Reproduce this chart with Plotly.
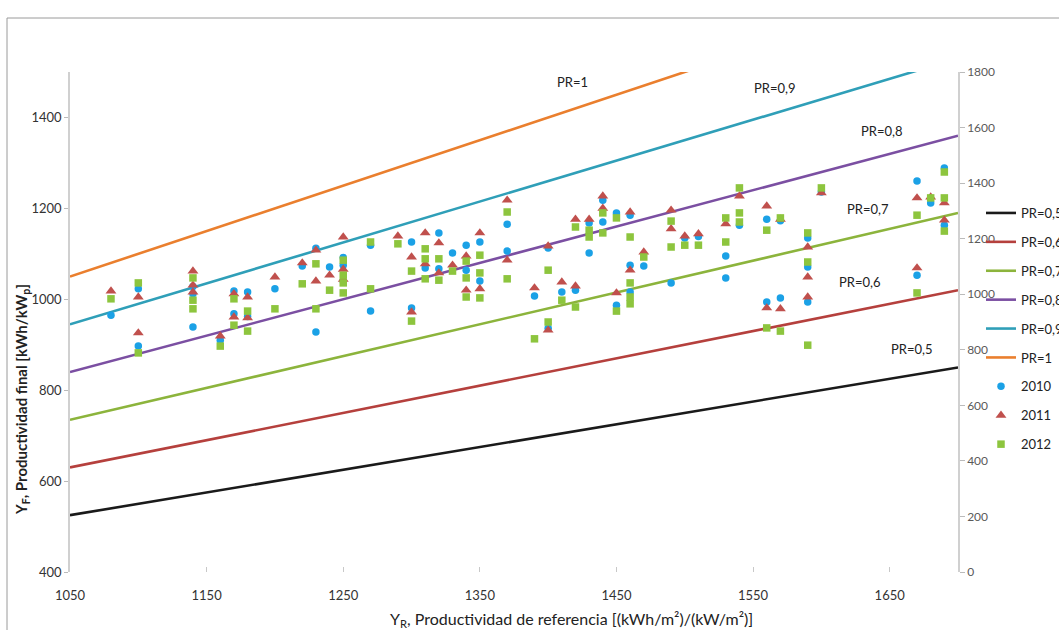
import plotly.graph_objects as go

# ---------------- data ----------------
pr_values = [0.5, 0.6, 0.7, 0.8, 0.9, 1.0]
pr_labels = ["PR=0,5", "PR=0,6", "PR=0,7", "PR=0,8", "PR=0,9", "PR=1"]
pr_colors = ["#1a1a1a", "#b5403d", "#8cb43c", "#7b4fa2", "#2f9fb8", "#ea7f2e"]
x_line = [1050, 1700]

x2010 = [1080, 1100, 1100, 1140, 1140, 1140, 1160, 1170, 1170, 1180, 1180, 1200, 1220,
         1230, 1230, 1240, 1250, 1250, 1250, 1270, 1270, 1300, 1300, 1310, 1320, 1320,
         1330, 1340, 1340, 1350, 1350, 1370, 1370, 1390, 1400, 1400, 1410, 1420, 1430,
         1430, 1440, 1440, 1450, 1450, 1460, 1460, 1460, 1470, 1490, 1500, 1510, 1530,
         1530, 1540, 1560, 1560, 1570, 1570, 1590, 1590, 1590, 1600, 1670, 1670, 1680,
         1690, 1690]
y2010 = [965, 1023, 897, 939, 1028, 1012, 910, 1018, 968, 1016, 962, 1023, 1073,
         1112, 928, 1071, 1092, 1075, 1040, 1119, 974, 1126, 981, 1069, 1146, 1067,
         1102, 1119, 1064, 1126, 1040, 1165, 1106, 1007, 1113, 936, 1016, 1020, 1168,
         1102, 1218, 1170, 1190, 987, 1185, 1075, 1016, 1073, 1036, 1135, 1138, 1095,
         1047, 1163, 1176, 994, 1173, 1003, 1135, 1071, 994, 1236, 1260, 1053, 1212,
         1289, 1163]

x2011 = [1080, 1100, 1100, 1140, 1140, 1140, 1160, 1170, 1170, 1180, 1180, 1200, 1220,
         1230, 1230, 1240, 1250, 1250, 1250, 1290, 1300, 1300, 1310, 1310, 1320, 1320,
         1330, 1340, 1340, 1350, 1350, 1370, 1370, 1390, 1400, 1400, 1410, 1420, 1420,
         1430, 1440, 1440, 1450, 1460, 1460, 1470, 1490, 1490, 1500, 1510, 1530, 1540,
         1560, 1560, 1570, 1570, 1590, 1590, 1590, 1600, 1670, 1670, 1680, 1690, 1690]
y2011 = [1018, 1005, 926, 1062, 1031, 1016, 919, 1012, 961, 1005, 959, 1049, 1080,
         1108, 1040, 1053, 1137, 1066, 1044, 1139, 1093, 972, 1146, 1078, 1124, 1058,
         1075, 1095, 1020, 1146, 1023, 1218, 1086, 1025, 1117, 932, 1038, 1176, 1029,
         1176, 1227, 1200, 1014, 1192, 1064, 1104, 1196, 1155, 1139, 1144, 1166, 1227,
         1205, 981, 1176, 979, 1115, 1049, 1005, 1234, 1223, 1069, 1225, 1212, 1174]

x2012 = [1080, 1100, 1100, 1140, 1140, 1140, 1160, 1170, 1170, 1180, 1180, 1200, 1220,
         1230, 1230, 1240, 1250, 1250, 1250, 1250, 1270, 1270, 1290, 1300, 1300, 1310,
         1310, 1310, 1320, 1320, 1330, 1340, 1340, 1340, 1350, 1350, 1350, 1370, 1370,
         1390, 1400, 1400, 1410, 1420, 1420, 1430, 1430, 1440, 1440, 1450, 1450, 1460,
         1460, 1460, 1460, 1470, 1490, 1490, 1500, 1510, 1530, 1530, 1540, 1540, 1540,
         1560, 1560, 1570, 1570, 1590, 1590, 1590, 1600, 1670, 1670, 1680, 1690, 1690,
         1690]
y2012 = [1001, 1036, 882, 1047, 998, 979, 897, 1001, 943, 974, 930, 979, 1034,
         1078, 979, 1020, 1086, 1053, 1036, 1014, 1126, 1023, 1122, 1062, 952, 1111,
         1089, 1045, 1089, 1042, 1062, 1084, 1047, 1005, 1097, 1058, 1003, 1192, 1045,
         913, 1064, 950, 998, 1159, 983, 1152, 1137, 1190, 1146, 1179, 974, 1137,
         1036, 1005, 990, 1093, 1172, 1115, 1119, 1119, 1179, 1126, 1245, 1190, 1170,
         1152, 937, 1179, 930, 1146, 1082, 899, 1245, 1185, 1014, 1223, 1280, 1223,
         1150]

x_ticks = [1050, 1150, 1250, 1350, 1450, 1550, 1650]
y_ticks = [400, 600, 800, 1000, 1200, 1400]
y2_ticks = [0, 200, 400, 600, 800, 1000, 1200, 1400, 1600, 1800]

FONT = "Lato"
fig = go.Figure()

for i, (pr, lab, col) in enumerate(zip(pr_values, pr_labels, pr_colors)):
    fig.add_trace(go.Scatter(
        x=x_line, y=[pr * v for v in x_line], mode="lines", name=lab,
        line=dict(color=col, width=2.6), legendgroup=f"g{i}", hoverinfo="skip"))

fig.add_trace(go.Scatter(x=x2010, y=y2010, mode="markers", name="2010", legendgroup="g6",
                         marker=dict(symbol="circle", size=7.5, color="#1ba1e6")))
fig.add_trace(go.Scatter(x=x2011, y=y2011, mode="markers", name="2011", legendgroup="g7",
                         marker=dict(symbol="triangle-up", size=9.5, color="#c0504d")))
fig.add_trace(go.Scatter(x=x2012, y=y2012, mode="markers", name="2012", legendgroup="g8",
                         marker=dict(symbol="square", size=7.5, color="#8dc53e")))

# dummy trace to show secondary axis
fig.add_trace(go.Scatter(x=[1050], y=[0], yaxis="y2", mode="markers",
                         marker=dict(opacity=0), showlegend=False, hoverinfo="skip"))

L, R, T, B = 70, 101, 72, 58
W, H = 1059, 630
pw, ph = W - L - R, H - T - B

def px2paper(px, py):
    return (px - L) / pw, (H - B - py) / ph

annots = []
ann_pos = [("PR=1", 1418, 1478), ("PR=0,9", 1566, 1465), ("PR=0,8", 1644, 1370),
           ("PR=0,7", 1634, 1199), ("PR=0,6", 1628, 1038), ("PR=0,5", 1666, 891)]
for t, ax_, ay_ in ann_pos:
    annots.append(dict(x=ax_, y=ay_, xref="x", yref="y", text=t, showarrow=False,
                       xanchor="center", yanchor="middle",
                       font=dict(family=FONT, size=13, color="#222222")))

yx, yy = px2paper(22, 400)
annots.append(dict(x=yx, y=yy, xref="paper", yref="paper", textangle=-90, showarrow=False,
                   xanchor="center", yanchor="middle",
                   text="<b>Y<sub>F</sub>, Productividad final [kWh/kW<sub>p</sub>]</b>",
                   font=dict(family=FONT, size=15, color="#222222", weight="bold")))
xx, xy = px2paper(571, 619)
annots.append(dict(x=xx, y=xy, xref="paper", yref="paper", showarrow=False,
                   xanchor="center", yanchor="middle",
                   text="Y<sub>R</sub>, Productividad de referencia [(kWh/m²)/(kW/m²)]",
                   font=dict(family=FONT, size=16, color="#222222")))

# outer chart border
bx0, by0 = px2paper(7, 18)
bx1, by1 = px2paper(1062, 632)
shapes = [dict(type="rect", xref="paper", yref="paper", x0=bx0, y0=by1, x1=bx1, y1=by0,
               line=dict(color="#9a9a9a", width=1), layer="below")]

lx, ly = px2paper(981, 198)
fig.update_layout(
    width=W, height=H,
    margin=dict(l=L, r=R, t=T, b=B, autoexpand=False),
    paper_bgcolor="white", plot_bgcolor="white",
    font=dict(family=FONT, size=12, color="#333333"),
    xaxis=dict(range=[1050, 1700], tickvals=x_ticks, showgrid=False, zeroline=False,
               showline=False, ticks="inside", ticklen=5, tickcolor="#c8c8c8",
               ticklabelstandoff=14, tickfont=dict(family=FONT, size=13, color="#333333")),
    yaxis=dict(range=[400, 1500], tickvals=y_ticks, showgrid=False, zeroline=False,
               showline=True, linecolor="#d0d0d0", linewidth=1.5, ticks="outside",
               ticklen=4, tickcolor="#bbbbbb",
               tickfont=dict(family=FONT, size=13, color="#333333")),
    yaxis2=dict(range=[0, 1800], tickvals=y2_ticks, overlaying="y", side="right",
                showgrid=False, zeroline=False, showline=True, linecolor="#d0d0d0",
                linewidth=1.5, ticks="outside", ticklen=5, tickcolor="#bbbbbb",
                tickfont=dict(family=FONT, size=12, color="#5a5a5a")),
    legend=dict(x=lx, y=ly, xanchor="left", yanchor="top", traceorder="grouped",
                tracegroupgap=9, font=dict(family=FONT, size=13, color="#222222"),
                bgcolor="rgba(0,0,0,0)"),
    annotations=annots, shapes=shapes,
)

fig.write_html("out.html")
